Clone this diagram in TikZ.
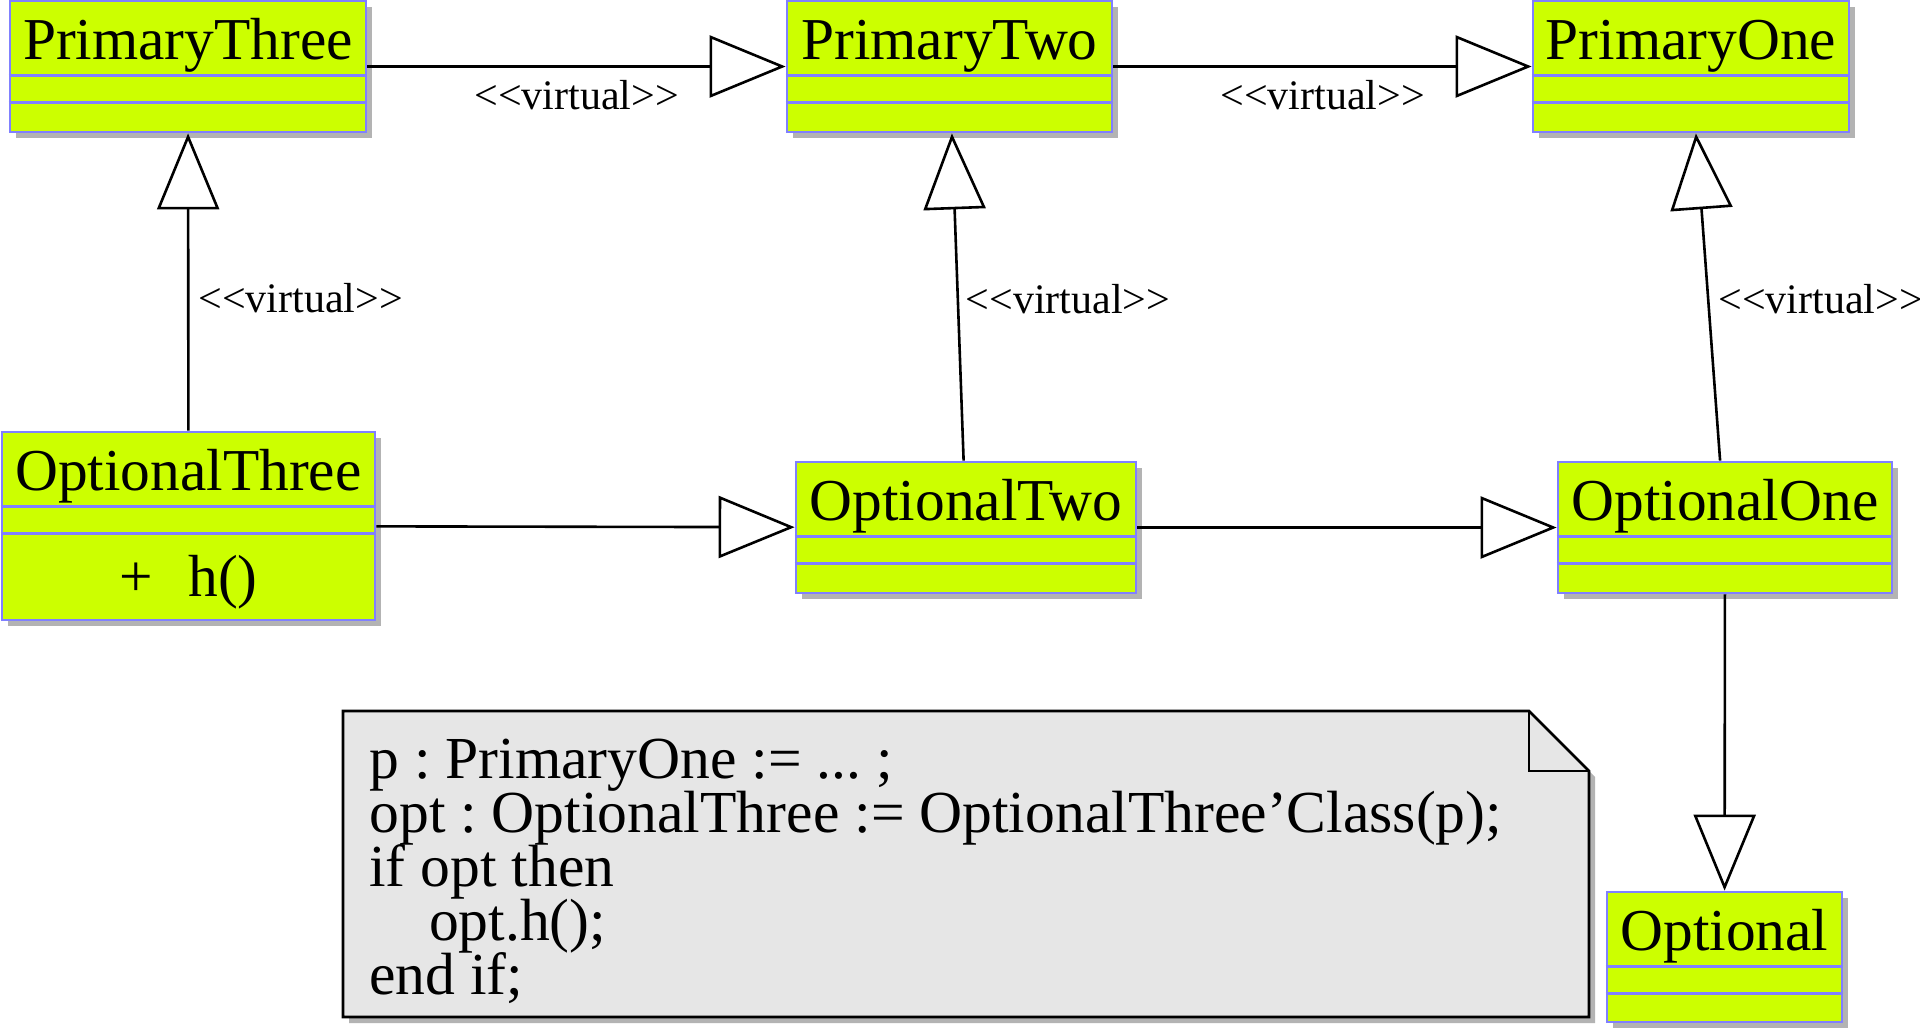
\documentclass[tikz,border=0pt]{standalone}
\usepackage{fontspec}
\setmainfont{Liberation Serif}
\usetikzlibrary{arrows.meta,calc,shadows}
\definecolor{classfill}{HTML}{CCFF00}
\definecolor{classline}{HTML}{8080FF}
\definecolor{notefill}{HTML}{E6E6E6}
\definecolor{shade}{HTML}{B3B3B3}
\frenchspacing
\setlength{\lineskiplimit}{-50pt}

\begin{document}
\begin{tikzpicture}[x=0.5pt,y=-0.5pt,
  umlclass/.style={draw=classline, fill=classfill, line width=1.4pt, inner sep=0pt,
    drop shadow={shadow xshift=3pt, shadow yshift=-3pt, fill=shade, opacity=1}},
  classname/.style={font=\fontsize{29.7pt}{32pt}\selectfont, inner sep=0pt},
  vlabel/.style={font=\fontsize{21pt}{24pt}\selectfont, inner sep=0pt},
  inherit/.style={line width=1.3pt, -{Triangle[open, length=38pt, width=31pt]}},
  notebox/.style={draw, fill=notefill, line width=1.3pt, line join=miter},
  notetext/.style={font=\fontsize{29.8pt}{26.95pt}\selectfont, align=left, inner sep=0pt}]
\useasboundingbox (0,0) rectangle (1920,1029);
\foreach \name/\x/\y/\w/\h in {PrimaryThree/188/66.5/356/131, PrimaryTwo/949.5/66.5/325/131,
    PrimaryOne/1691/66.5/316/131, OptionalThree/188.5/526/373/188, OptionalTwo/966/527.5/340/131,
    OptionalOne/1725/527.5/334/131, Optional/1724.5/957/235/130}{
\node [umlclass, minimum width=\w*0.5pt, minimum height=\h*0.5pt] (\name) at (\x,\y) {};
\draw [classline, line width=1.4pt] ($(\name.north west)+(0,76)$) -- ($(\name.north east)+(0,76)$); % attributes
\draw [classline, line width=1.4pt] ($(\name.north west)+(0,103)$) -- ($(\name.north east)+(0,103)$); % operations
\node [classname, anchor=base] (\name-title) at ($(\name.north)+(0,60)$) {\name};
}
\node [classname, anchor=base] (OptionalThree-op) at ($(OptionalThree.north)+(0,166)$) {+\hspace{0.6em}h()};
% top row
\draw [inherit] (PrimaryThree) -- (PrimaryTwo) node[vlabel, midway, anchor=base, yshift=-21.5pt] (virt-a) {<\kern0pt<virtual>\kern0pt>};
\draw [inherit] (PrimaryTwo) -- (PrimaryOne) node[vlabel, midway, anchor=base, yshift=-21.5pt] (virt-b) {<\kern0pt<virtual>\kern0pt>};
% optional to primary
\draw [inherit] (OptionalThree) -- (PrimaryThree) node[vlabel, pos=0.397, anchor=base west, xshift=4.5pt] (virt-c) {<\kern0pt<virtual>\kern0pt>};
\draw [inherit] (OptionalTwo) -- (PrimaryTwo) node[vlabel, pos=0.45, anchor=base west, xshift=3pt] (virt-d) {<\kern0pt<virtual>\kern0pt>};
\draw [inherit] (OptionalOne) -- (PrimaryOne) node[vlabel, pos=0.45, anchor=base west, xshift=4pt] (virt-e) {<\kern0pt<virtual>\kern0pt>};
% bottom row
\draw [inherit] (OptionalThree) -- (OptionalTwo);
\draw [inherit] (OptionalTwo) -- (OptionalOne);
\draw [inherit] (OptionalOne) -- (Optional);
% note
\draw [notebox, drop shadow={shadow xshift=3pt, shadow yshift=-3pt, fill=shade, opacity=1}]
  (343,711) -- (1529,711) -- (1589,771) -- (1589,1017) -- (343,1017) -- cycle;
\draw [notebox, fill=none] (1529,711) -- (1529,771) -- (1589,771);
\node [notetext, anchor=north west] (code) at (369,739) {p : PrimaryOne := ... ;\\
  opt : OptionalThree := OptionalThree'Class(p);\\
  if opt then\\
  \hspace*{1em}opt.h();\\
  end if;};
\end{tikzpicture}
\end{document}
